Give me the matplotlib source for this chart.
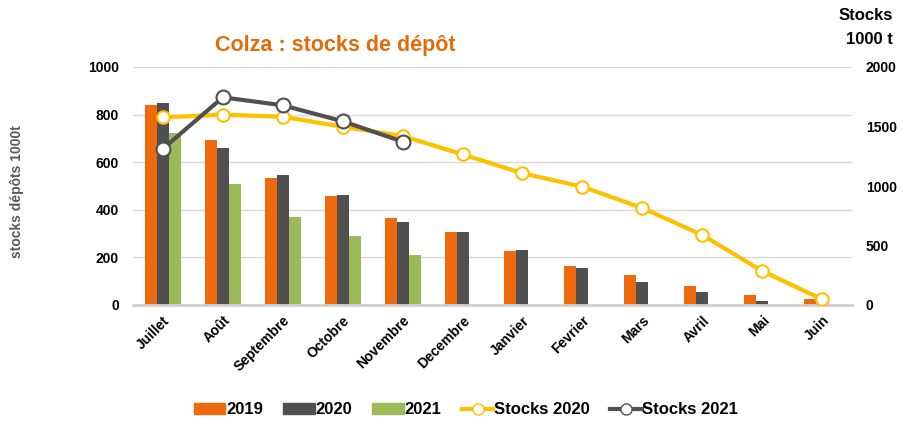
import matplotlib
matplotlib.use("Agg")
import matplotlib.pyplot as plt
import numpy as np
from matplotlib.lines import Line2D
from matplotlib.patches import Patch

months = ["Juillet", "Août", "Septembre", "Octobre", "Novembre", "Decembre",
          "Janvier", "Fevrier", "Mars", "Avril", "Mai", "Juin"]
v2019 = [840, 692, 532, 459, 367, 305, 225, 164, 125, 80, 41, 25]
v2020 = [850, 658, 546, 462, 347, 305, 231, 155, 97, 55, 17, 3]
v2021 = [724, 508, 371, 289, 210]
stocks2020 = [1577, 1599, 1582, 1498, 1420, 1266, 1107, 994, 815, 588, 286, 48]
stocks2021 = [1314, 1745, 1678, 1544, 1373]

C19 = "#EE6A0C"
C20 = "#505050"
C21 = "#9BBB59"
CY = "#FFC000"

plt.rcParams['font.family'] = ['Liberation Sans', 'DejaVu Sans']
fig = plt.figure(figsize=(9.05, 4.26), dpi=100)
ax = fig.add_axes([133/905, 1-305/426, (852-133)/905, (305-67)/426])
x = np.arange(len(months))
w = 0.2
ax.bar(x - w, v2019, w, color=C19, zorder=2)
ax.bar(x, v2020, w, color=C20, zorder=2)
ax.bar(np.arange(len(v2021)) + w, v2021, w, color=C21, zorder=2)
ax.set_ylim(0, 1000)
ax.set_xlim(-0.5, len(months) - 0.5)
ax.set_yticks(range(0, 1001, 200))
ax.grid(axis='y', color='#D9D9D9', lw=1, zorder=0)
ax.set_axisbelow(True)
for s in ['top', 'right', 'left']:
    ax.spines[s].set_visible(False)
ax.spines['bottom'].set_color('#D0D0D0')
ax.spines['bottom'].set_linewidth(2)
ax.tick_params(axis='both', length=0, labelsize=10)
ax.set_xticks(x)
ax.set_xticklabels(months, rotation=45, ha='right', rotation_mode='anchor', fontweight='bold')
for lab in ax.get_yticklabels():
    lab.set_fontweight('bold')
ax.tick_params(axis='y', pad=10)
ax.tick_params(axis='x', pad=6)

ax2 = ax.twinx()
ax2.set_ylim(0, 2000)
ax2.set_yticks(range(0, 2001, 500))
for s in ['top', 'right', 'left', 'bottom']:
    ax2.spines[s].set_visible(False)
ax2.tick_params(axis='y', length=0, labelsize=10, pad=10)
for lab in ax2.get_yticklabels():
    lab.set_fontweight('bold')
ax2.plot(x, stocks2020, color=CY, lw=3, marker='o', ms=9, mfc='white', mec=CY, mew=1.5, zorder=3)
ax2.plot(np.arange(len(stocks2021)), stocks2021, color=C20, lw=3, marker='o', ms=10,
         mfc='white', mec=C20, mew=1.5, zorder=4)

fig.text(335/905, 1-45/426, "Colza : stocks de dépôt", color="#E36C0A", fontsize=15.5,
         fontweight='bold', ha='center', va='center')
fig.text(893/905, 1-16/426, "Stocks", fontsize=12, fontweight='bold', ha='right', va='center')
fig.text(893/905, 1-40/426, "1000 t", fontsize=12, fontweight='bold', ha='right', va='center')
fig.text(17/905, 1-192/426, "stocks dépôts 1000t", color="#595959", fontsize=10,
         fontweight='bold', rotation=90, ha='center', va='center')

handles = [Patch(color=C19), Patch(color=C20), Patch(color=C21),
           Line2D([], [], color=CY, lw=3, marker='o', ms=8, mfc='white', mec=CY),
           Line2D([], [], color=C20, lw=3, marker='o', ms=8, mfc='white', mec=C20)]
labels = ["2019", "2020", "2021", "Stocks 2020", "Stocks 2021"]
leg = fig.legend(handles, labels, loc='center', bbox_to_anchor=(466/905, 1-410/426), ncol=5,
                 frameon=False, prop={'weight': 'bold', 'size': 12}, handlelength=1.9,
                 handletextpad=0.05, columnspacing=1.2, handleheight=0.65)
fig.savefig("out.png", dpi=100)
